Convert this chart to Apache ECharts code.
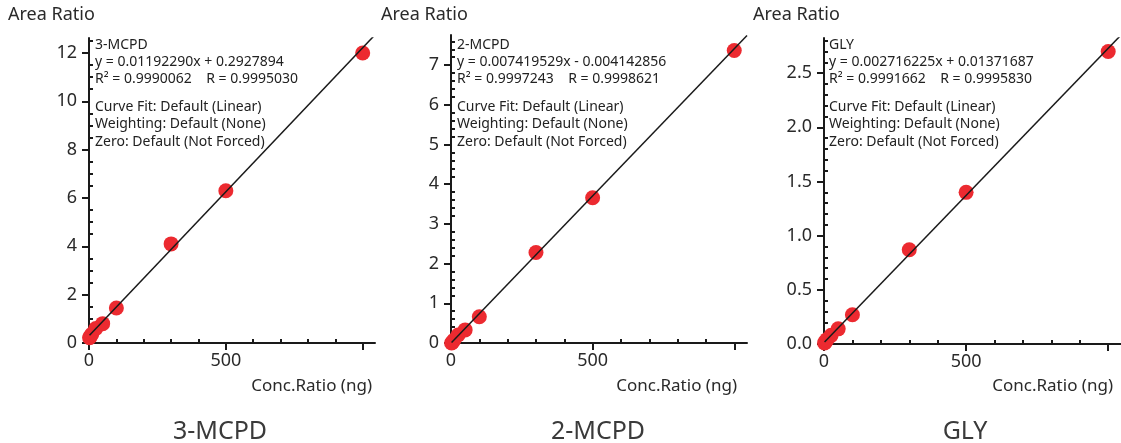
<!DOCTYPE html>
<html>
<head>
<meta charset="utf-8">
<script src="https://cdn.jsdelivr.net/npm/echarts@6/dist/echarts.min.js"></script>
<style>
  html, body { margin: 0; padding: 0; background: #fff; }
  #chart { width: 1121px; height: 443px; }
</style>
</head>
<body>
<div id="chart"></div>
<script>
// calibration levels (ng)
const conc = [2, 5, 10, 25, 50, 100, 300, 500, 1000]

// measured area ratios
const mcpd3Values = [0.22, 0.28, 0.36, 0.6, 0.8, 1.45, 4.1, 6.3, 12.0]
const mcpd2Values = [0.0, 0.02, 0.07, 0.2, 0.33, 0.66, 2.28, 3.66, 7.37]
const glyValues = [0.01, 0.02, 0.04, 0.08, 0.14, 0.27, 0.87, 1.40, 2.70]

// fit coefficients printed on the chart
const mcpd3Fit = [0.01192290, 0.2927894]
const mcpd2Fit = [0.007419529, -0.004142856]
const glyFit = [0.002716225, 0.01371687]

const mcpd3Text = ['3-MCPD', 'y = 0.01192290x + 0.2927894', 'R² = 0.9990062    R = 0.9995030']
const mcpd2Text = ['2-MCPD', 'y = 0.007419529x - 0.004142856', 'R² = 0.9997243    R = 0.9998621']
const glyText = ['GLY', 'y = 0.002716225x + 0.01371687', 'R² = 0.9991662    R = 0.9995830']
const fitInfo = ['Curve Fit: Default (Linear)', 'Weighting: Default (None)', 'Zero: Default (Not Forced)']

// tick labels
const xLabels = [0, 500]
const xMajor = [0, 500, 1000]
const xMinor = [100, 200, 300, 400, 600, 700, 800, 900]
const mcpd3YLabels = [0, 2, 4, 6, 8, 10, 12]
const mcpd2YLabels = [0, 1, 2, 3, 4, 5, 6, 7]
const glyYLabels = [0, 0.5, 1.0, 1.5, 2.0, 2.5]

const titles = ['3-MCPD', '2-MCPD', 'GLY']

const font = '"Noto Sans", "Open Sans", sans-serif'
const ink = '#1a1a1a'
const xMax = 1045

const panels = [
   { values: mcpd3Values, fit: mcpd3Fit, text: mcpd3Text, yLabels: mcpd3YLabels, yMax: 12.62, minorStep: 0.5, digits: 0,
     grid: { left: 89, top: 38, width: 286, height: 305 }, nameX: 8, textX: 95, titleX: 220, concX: 372 },
   { values: mcpd2Values, fit: mcpd2Fit, text: mcpd2Text, yLabels: mcpd2YLabels, yMax: 7.76, minorStep: 0.2, digits: 0,
     grid: { left: 451, top: 35, width: 296, height: 308 }, nameX: 381, textX: 457, titleX: 598, concX: 737 },
   { values: glyValues, fit: glyFit, text: glyText, yLabels: glyYLabels, yMax: 2.825, minorStep: 0.1, digits: 1,
     grid: { left: 824, top: 38, width: 297, height: 306 }, nameX: 753, textX: 829, titleX: 965, concX: 1113 }
]

function minorTicks(max, step, majors) {
   let out = []
   for (let i = 1; i * step <= max; i++) {
      let v = +(i * step).toFixed(4)
      if (!majors.some(m => Math.abs(m - v) < 1e-6)) out.push(v)
   }
   return out
}

let grid = [], xAxis = [], yAxis = [], series = [], graphic = []

panels.forEach((p, i) => {
   grid.push(p.grid)

   // main x axis with labels and long ticks
   xAxis.push({
      type: 'value', gridIndex: i, min: 0, max: xMax,
      axisLine: { show: true, lineStyle: { color: ink, width: 2 } },
      axisTick: { show: true, length: 7, lineStyle: { color: ink, width: 2 }, customValues: xMajor },
      axisLabel: { color: '#2a2a2a', fontSize: 18, fontFamily: font, margin: 9, customValues: xLabels },
      splitLine: { show: false }
   })
   // short ticks only
   xAxis.push({
      type: 'value', gridIndex: i, min: 0, max: xMax,
      axisLine: { show: false },
      axisTick: { show: true, length: 4, lineStyle: { color: ink, width: 2 }, customValues: xMinor },
      axisLabel: { show: false },
      splitLine: { show: false }
   })

   yAxis.push({
      type: 'value', gridIndex: i, min: 0, max: p.yMax,
      axisLine: { show: true, lineStyle: { color: ink, width: 2 } },
      axisTick: { show: true, length: 7, lineStyle: { color: ink, width: 2 }, customValues: p.yLabels },
      axisLabel: {
         color: '#2a2a2a', fontSize: 18, fontFamily: font, margin: 12, customValues: p.yLabels,
         formatter: v => v.toFixed(p.digits)
      },
      splitLine: { show: false }
   })
   yAxis.push({
      type: 'value', gridIndex: i, min: 0, max: p.yMax,
      axisLine: { show: false },
      axisTick: { show: true, length: 4, lineStyle: { color: ink, width: 2 }, customValues: minorTicks(p.yMax, p.minorStep, p.yLabels) },
      axisLabel: { show: false },
      splitLine: { show: false }
   })

   series.push({
      type: 'scatter',
      xAxisIndex: i * 2, yAxisIndex: i * 2,
      symbolSize: 15,
      itemStyle: { color: '#ec2a30', opacity: 1 },
      data: conc.map((c, k) => [c, p.values[k]]),
      z: 2
   })
   series.push({
      type: 'line',
      xAxisIndex: i * 2, yAxisIndex: i * 2,
      showSymbol: false, symbol: 'none',
      lineStyle: { color: ink, width: 1.5 },
      data: [[conc[0], p.fit[0] * conc[0] + p.fit[1]], [xMax, p.fit[0] * xMax + p.fit[1]]],
      z: 3,
      silent: true
   })

   graphic.push({
      type: 'text', left: p.nameX, top: 6,
      style: { text: 'Area Ratio', fontSize: 18, fontFamily: font, fill: '#2a2a2a' }
   })
   graphic.push({
      type: 'text', left: p.textX, top: 37,
      style: { text: p.text.join('\n'), fontSize: 14, lineHeight: 17, fontFamily: font, fill: '#222' }
   })
   graphic.push({
      type: 'text', left: p.textX, top: 98,
      style: { text: fitInfo.join('\n'), fontSize: 14, lineHeight: 17.5, fontFamily: font, fill: '#222' }
   })
   graphic.push({
      type: 'text', x: p.concX, y: 386,
      style: { text: 'Conc.Ratio (ng)', fontSize: 17, fontFamily: font, fill: '#2a2a2a', align: 'right', verticalAlign: 'middle' }
   })
   graphic.push({
      type: 'text', x: p.titleX, y: 432,
      style: { text: titles[i], fontSize: 25, fontFamily: font, fill: '#3a3a3a', align: 'center', verticalAlign: 'middle' }
   })
})

let myChart = echarts.init(document.getElementById('chart'))
myChart.setOption({
   animation: false,
   grid: grid,
   xAxis: xAxis,
   yAxis: yAxis,
   series: series,
   graphic: graphic
})
</script>
</body>
</html>
